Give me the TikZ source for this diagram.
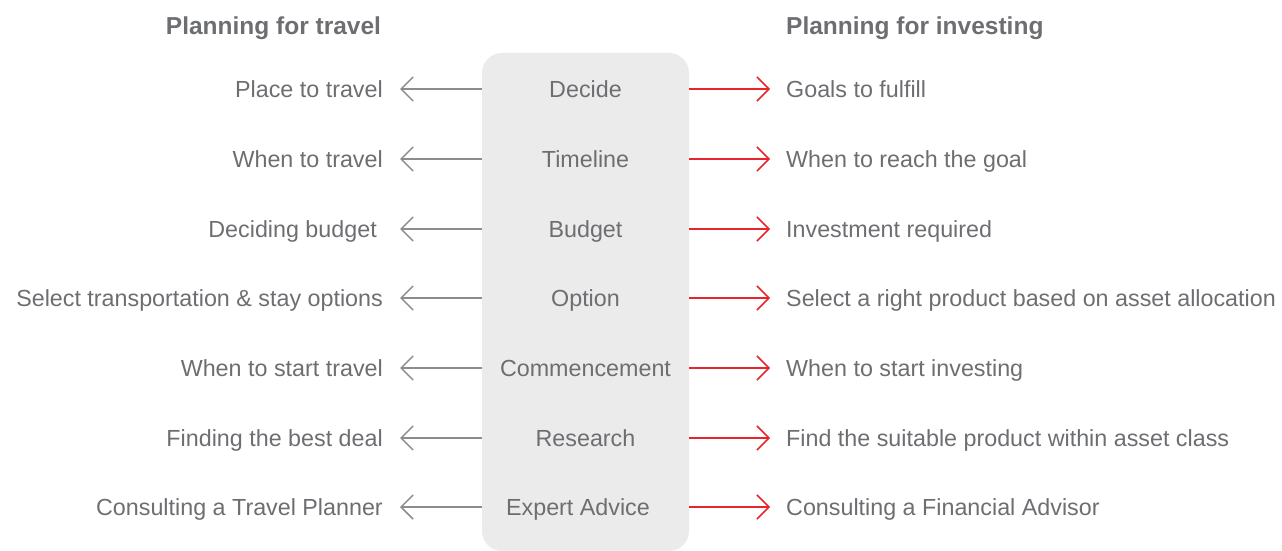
\documentclass[tikz,border=0pt]{standalone}
\usepackage{fontspec}
\setmainfont{Liberation Sans}
\usetikzlibrary{arrows.meta}
\definecolor{txt}{HTML}{6D6E71}
\definecolor{boxfill}{HTML}{EBEBEB}
\definecolor{larrow}{HTML}{8C8C8C}
\definecolor{rarrow}{HTML}{E8252C}
\tikzset{
  head/.style={font=\fontsize{24.5}{28}\selectfont\bfseries, text=txt, inner sep=0pt},
  lbl/.style={font=\fontsize{23.3}{27}\selectfont, text=txt, inner sep=0pt},
  mid/.style={font=\fontsize{23.3}{27}\selectfont, text=txt, inner sep=0pt, anchor=base},
  larr/.style={draw=larrow, line width=1.5pt, -{Straight Barb[length=12pt,width=24pt,line width=1.5pt]}},
  rarr/.style={draw=rarrow, line width=1.5pt, -{Straight Barb[length=12pt,width=24pt,line width=1.5pt]}},
}
\begin{document}
\begin{tikzpicture}[x=1pt,y=-1pt]
\useasboundingbox (0,0) rectangle (1282,551);
\fill[boxfill, rounded corners=20pt] (482,53) rectangle (689,551);
\node[head, anchor=base] (h1) at (273.5,35) {Planning for travel};
\node[head, anchor=base west] (h2) at (786,35) {Planning for investing};
\foreach \i/\y/\mx/\m/\lx/\l/\r in {
  1/89/585.5/Decide/383/Place to travel/Goals to fulfill,
  2/159/585.5/Timeline/383/When to travel/When to reach the goal,
  3/229/585.5/Budget/377/Deciding budget/Investment required,
  4/298/585.5/Option/383/Select transportation \& stay options/Select a right product based on asset allocation,
  5/368/585.5/Commencement/383/When to start travel/When to start investing,
  6/438/585.5/Research/383/Finding the best deal/Find the suitable product within asset class,
  7/507/578/Expert Advice/383/Consulting a Travel Planner/Consulting a Financial Advisor}{
  \node[mid] (m\i) at (\mx,\y+8.3) {\m};
  \node[lbl, anchor=base east] (l\i) at (\lx,\y+8.3) {\l};
  \node[lbl, anchor=base west] (r\i) at (786,\y+8.3) {\r};
  \coordinate (bl\i) at (482,\y);
  \coordinate (br\i) at (689,\y);
  \coordinate (tl\i) at (400,\y);
  \coordinate (tr\i) at (770,\y);
  \draw[larr] (bl\i) -- (tl\i);
  \draw[rarr] (br\i) -- (tr\i);
}
\end{tikzpicture}
\end{document}
